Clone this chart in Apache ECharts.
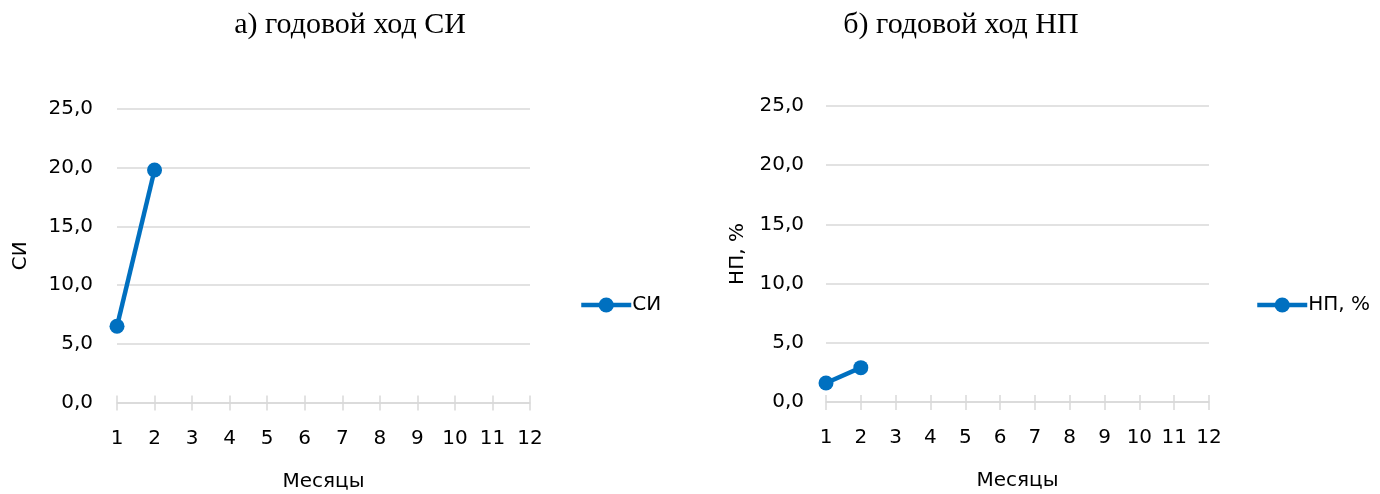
<!DOCTYPE html>
<html>
<head>
<meta charset="utf-8">
<script src="https://cdn.jsdelivr.net/npm/echarts@6/dist/echarts.min.js"></script>
<style>
html,body{margin:0;padding:0;background:#fff;}
#c{width:1380px;height:494px;}
</style>
</head>
<body>
<div id="c"></div>
<script>
var months = [1,2,3,4,5,6,7,8,9,10,11,12];
var siMonths = [1, 2];
var siValues = [6.5, 19.8];
var npMonths = [1, 2];
var npValues = [1.6, 2.9];
var yTicks = [0, 5, 10, 15, 20, 25];

var FONT = 'DejaVu Sans';
var FS = 20;
var BLUE = '#0070c0';
var GRID = '#d9d9d9';

function pairs(xs, ys){ return xs.map(function(x,i){ return [x, ys[i]]; }); }
function fmt(v){ return v.toFixed(1).replace('.', ','); }

function xAxisMain(gi){
  return {
    type:'value', gridIndex:gi, min:months[0], max:months[months.length-1], interval:1,
    name:'Месяцы', nameLocation:'middle', nameGap:69, nameMoveOverlap:false,
    nameTextStyle:{fontFamily:FONT, fontSize:FS, color:'#000'},
    axisLine:{show:true, lineStyle:{color:GRID, width:1.5}},
    axisTick:{show:true, length:8, lineStyle:{color:GRID, width:1.5}},
    axisLabel:{margin:26, fontFamily:FONT, fontSize:FS, color:'#000'},
    splitLine:{show:false}
  };
}
function xAxisInner(gi){
  return {
    type:'value', gridIndex:gi, min:months[0], max:months[months.length-1], interval:1,
    position:'bottom',
    axisLine:{show:false},
    axisTick:{show:true, inside:true, length:7, lineStyle:{color:GRID, width:1.5}},
    axisLabel:{show:false},
    splitLine:{show:false}
  };
}
function yAxis(gi, name, gap, margin){
  return {
    type:'value', gridIndex:gi, min:yTicks[0], max:yTicks[yTicks.length-1], interval:5,
    name:name, nameLocation:'middle', nameGap:gap, nameRotate:90, nameMoveOverlap:false,
    nameTextStyle:{fontFamily:FONT, fontSize:FS, color:'#000'},
    axisLine:{show:false}, axisTick:{show:false},
    axisLabel:{margin:margin, fontFamily:FONT, fontSize:FS, color:'#000', formatter:fmt},
    splitLine:{show:true, lineStyle:{color:GRID, width:1.5}}
  };
}
function lineSeries(name, xi, yi, data){
  return {
    type:'line', name:name, xAxisIndex:xi, yAxisIndex:yi, data:data,
    symbol:'circle', symbolSize:15, showSymbol:true,
    lineStyle:{color:BLUE, width:4.5}, itemStyle:{color:BLUE},
    animation:false
  };
}
function legend(name, left){
  return {
    data:[name], left:left, top:290, itemWidth:50, itemHeight:19, itemGap:0,
    lineStyle:{width:4.5},
    textStyle:{fontFamily:FONT, fontSize:FS, color:'#000', padding:[0,0,0,-4]}
  };
}

var chart = echarts.init(document.getElementById('c'));
chart.setOption({
  backgroundColor:'#fff',
  animation:false,
  title:[
    {text:'а) годовой ход СИ', left:345, top:5, textAlign:'center',
     textStyle:{fontFamily:'Liberation Serif', fontSize:30, fontWeight:'normal', color:'#000'}},
    {text:'б) годовой ход НП', left:956, top:5, textAlign:'center',
     textStyle:{fontFamily:'Liberation Serif', fontSize:30, fontWeight:'normal', color:'#000'}}
  ],
  legend:[legend('СИ', 574), legend('НП, %', 1250)],
  grid:[
    {left:117, right:1380-530, top:109, bottom:494-402.5, outerBoundsMode:'none'},
    {left:826, right:1380-1209, top:106, bottom:494-402, outerBoundsMode:'none'}
  ],
  xAxis:[xAxisMain(0), xAxisMain(1), xAxisInner(0), xAxisInner(1)],
  yAxis:[yAxis(0,'СИ',86,24), yAxis(1,'НП, %',78,22)],
  series:[
    lineSeries('СИ', 0, 0, pairs(siMonths, siValues)),
    lineSeries('НП, %', 1, 1, pairs(npMonths, npValues))
  ]
});
</script>
</body>
</html>
